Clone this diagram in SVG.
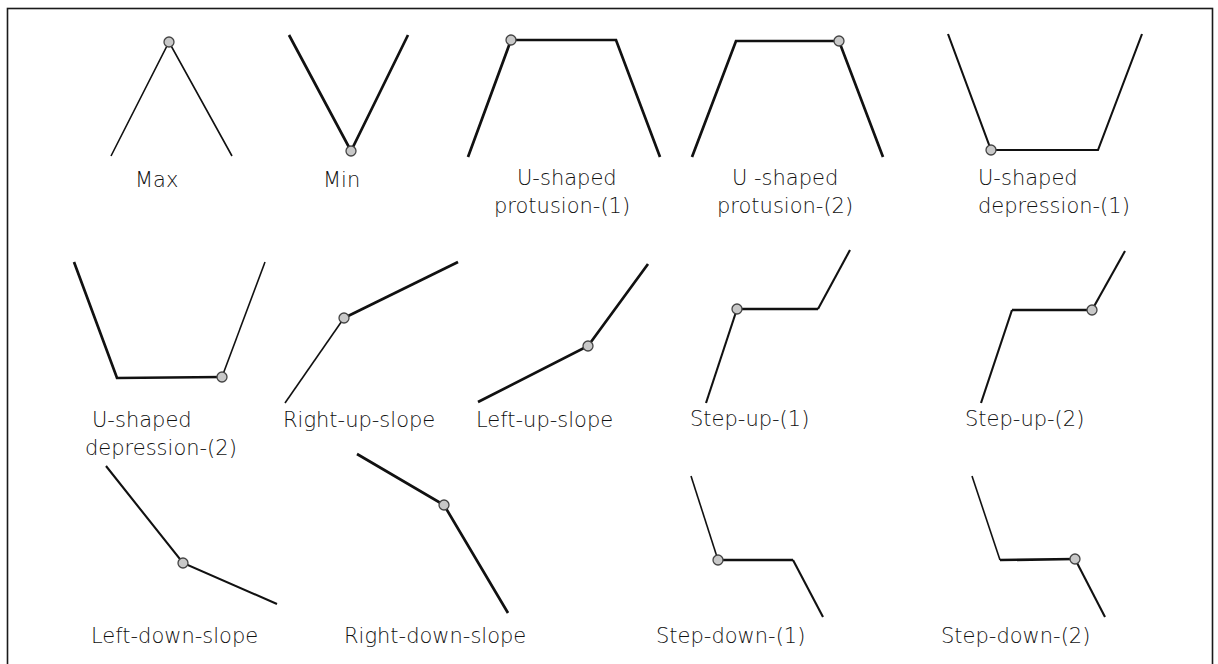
<svg xmlns="http://www.w3.org/2000/svg" width="1218" height="664" viewBox="0 0 1218 664">
  <style>
    .bg { fill: #ffffff; }
    .frame { fill: none; stroke: #1a1a1a; stroke-width: 1.6; }
    .ln { fill: none; stroke: #111111; stroke-linejoin: miter; stroke-linecap: butt; }
    .thin { stroke-width: 1.6; }
    .mid { stroke-width: 2.1; }
    .thick { stroke-width: 2.7; }
    .pt { fill: #c8c8c8; stroke: #444444; stroke-width: 1.3; }
    .lbl { font-family: "DejaVu Sans", "Liberation Sans", sans-serif; font-size: 21px; font-weight: 300; fill: #111111; }
  </style>
  <defs>
    <circle id="dot" r="5" class="pt"/>
  </defs>

  <rect class="bg" x="0" y="0" width="1218" height="664"/>
  <!-- outer frame (bottom edge runs past the canvas) -->
  <rect class="frame" x="7.5" y="8.5" width="1205" height="680"/>

  <g id="connectors"></g>

  <!-- row 1 -->
  <g id="max">
    <polyline class="ln thin" points="111,156 169,42 232,156"/>
    <use href="#dot" x="169" y="42"/>
    <text class="lbl" x="135" y="187">Max</text>
  </g>
  <g id="min">
    <polyline class="ln thick" points="289,35 351,151 408,35"/>
    <use href="#dot" x="351" y="151"/>
    <text class="lbl" x="323" y="187">Min</text>
  </g>
  <g id="u-protusion-1">
    <polyline class="ln thick" points="468,157 511,40 616,40 660,157"/>
    <use href="#dot" x="511" y="40"/>
    <text class="lbl" x="517" y="185">U-shaped</text>
    <text class="lbl" x="494" y="213">protusion-(1)</text>
  </g>
  <g id="u-protusion-2">
    <polyline class="ln thick" points="692,157 736,41 839,41 883,157"/>
    <use href="#dot" x="839" y="41"/>
    <text class="lbl" x="732" y="185">U -shaped</text>
    <text class="lbl" x="717" y="213">protusion-(2)</text>
  </g>
  <g id="u-depression-1">
    <polyline class="ln mid" points="948,34 991,150 1098,150 1142,34"/>
    <use href="#dot" x="991" y="150"/>
    <text class="lbl" x="978" y="185">U-shaped</text>
    <text class="lbl" x="978" y="213">depression-(1)</text>
  </g>

  <!-- row 2 -->
  <g id="u-depression-2">
    <polyline class="ln thick" points="74,262 117,378 222,377"/>
    <polyline class="ln thin" points="222,377 265,262"/>
    <use href="#dot" x="222" y="377"/>
    <text class="lbl" x="92" y="427">U-shaped</text>
    <text class="lbl" x="85" y="455">depression-(2)</text>
  </g>
  <g id="right-up-slope">
    <polyline class="ln thin" points="285,403 344,318"/>
    <polyline class="ln thick" points="344,318 458,262"/>
    <use href="#dot" x="344" y="318"/>
    <text class="lbl" x="283" y="427">Right-up-slope</text>
  </g>
  <g id="left-up-slope">
    <polyline class="ln thick" points="478,402 588,346 648,264"/>
    <use href="#dot" x="588" y="346"/>
    <text class="lbl" x="476" y="427">Left-up-slope</text>
  </g>
  <g id="step-up-1">
    <polyline class="ln mid" points="706,403 737,309"/>
    <polyline class="ln thick" points="737,309 818,309"/>
    <polyline class="ln mid" points="818,309 850,250"/>
    <use href="#dot" x="737" y="309"/>
    <text class="lbl" x="690" y="426">Step-up-(1)</text>
  </g>
  <g id="step-up-2">
    <polyline class="ln mid" points="981,403 1012,310"/>
    <polyline class="ln thick" points="1012,310 1092,310"/>
    <polyline class="ln mid" points="1092,310 1125,251"/>
    <use href="#dot" x="1092" y="310"/>
    <text class="lbl" x="965" y="426">Step-up-(2)</text>
  </g>

  <!-- row 3 -->
  <g id="left-down-slope">
    <polyline class="ln mid" points="106,466 183,563 277,604"/>
    <use href="#dot" x="183" y="563"/>
    <text class="lbl" x="91" y="643">Left-down-slope</text>
  </g>
  <g id="right-down-slope">
    <polyline class="ln thick" points="357,454 444,505 508,613"/>
    <use href="#dot" x="444" y="505"/>
    <text class="lbl" x="344" y="643">Right-down-slope</text>
  </g>
  <g id="step-down-1">
    <polyline class="ln thin" points="691,476 718,560"/>
    <polyline class="ln thick" points="718,560 793,560"/>
    <polyline class="ln mid" points="793,560 823,617"/>
    <use href="#dot" x="718" y="560"/>
    <text class="lbl" x="656" y="643">Step-down-(1)</text>
  </g>
  <g id="step-down-2">
    <polyline class="ln thin" points="972,476 1000,560"/>
    <polyline class="ln thick" points="1000,560 1075,559"/>
    <polyline class="ln mid" points="1075,559 1105,617"/>
    <use href="#dot" x="1075" y="559"/>
    <text class="lbl" x="941" y="643">Step-down-(2)</text>
  </g>
</svg>
